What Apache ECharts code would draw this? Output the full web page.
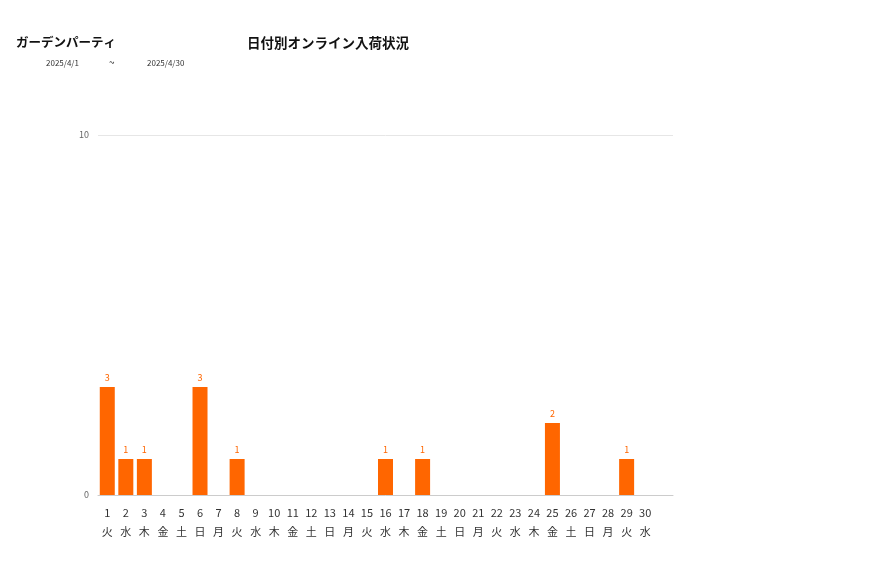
<!DOCTYPE html>
<html>
<head>
<meta charset="utf-8">
<script src="https://cdn.jsdelivr.net/npm/echarts@6/dist/echarts.min.js"></script>
<style>
html,body{margin:0;padding:0;background:#fff;}
#chart1{width:877px;height:578px;}
</style>
</head>
<body>
<div id="chart1"></div>
<script>
// 31 slots on the axis, the last one left empty
var days = ['1','2','3','4','5','6','7','8','9','10','11','12','13','14','15','16','17','18','19','20','21','22','23','24','25','26','27','28','29','30',''];
var weekdays = ['火','水','木','金','土','日','月','火','水','木','金','土','日','月','火','水','木','金','土','日','月','火','水','木','金','土','日','月','火','水',''];
var values = [3,1,1,0,0,3,0,1,0,0,0,0,0,0,0,1,0,1,0,0,0,0,0,0,2,0,0,0,1,0];
var yTicks = [0, 10];

var cats = [];
for (var i = 0; i < days.length; i++) {
    cats.push(days[i] + '\n' + weekdays[i]);
}

var font = '"Noto Sans CJK JP", "Noto Sans", sans-serif';
var myChart = echarts.init(document.getElementById('chart1'));

var option = {
    animation: false,
    textStyle: { fontFamily: font },
    title: [
        {
            text: 'ガーデンパーティ',
            left: 16, top: 36, padding: 0,
            textStyle: { fontSize: 12.5, fontWeight: 'bold', color: '#111', fontFamily: font }
        },
        {
            text: '日付別オンライン入荷状況',
            left: 247, top: 36, padding: 0,
            textStyle: { fontSize: 13.5, fontWeight: 'bold', color: '#111', fontFamily: font }
        },
        {
            text: '2025/4/1',
            left: 46, top: 59, padding: 0,
            textStyle: { fontSize: 8, fontWeight: 'normal', color: '#333', fontFamily: font }
        },
        {
            text: '~',
            left: 109, top: 57, padding: 0,
            textStyle: { fontSize: 10, fontWeight: 'normal', color: '#333', fontFamily: font }
        },
        {
            text: '2025/4/30',
            left: 147, top: 59, padding: 0,
            textStyle: { fontSize: 8, fontWeight: 'normal', color: '#333', fontFamily: font }
        }
    ],
    grid: { left: 98, right: 204, top: 135, bottom: 83 },
    xAxis: {
        type: 'category',
        data: cats,
        axisTick: { show: false },
        axisLine: { show: true, lineStyle: { color: '#ccc' } },
        axisLabel: {
            interval: 0,
            color: '#333',
            fontSize: 11,
            lineHeight: 19,
            margin: 8,
            fontFamily: font
        }
    },
    yAxis: {
        type: 'value',
        min: yTicks[0],
        max: yTicks[1],
        interval: yTicks[1] - yTicks[0],
        axisLine: { show: false },
        axisTick: { show: false },
        splitLine: { lineStyle: { color: '#e6e6e6' } },
        axisLabel: { color: '#666', fontSize: 9, margin: 9 }
    },
    series: [{
        type: 'bar',
        data: values,
        barWidth: 15,
        itemStyle: { color: '#ff6600' },
        label: {
            show: true,
            position: 'top',
            color: '#ff6600',
            fontSize: 9,
            distance: 5,
            formatter: function (p) { return p.value > 0 ? p.value : ''; }
        }
    }]
};
myChart.setOption(option);
</script>
</body>
</html>
